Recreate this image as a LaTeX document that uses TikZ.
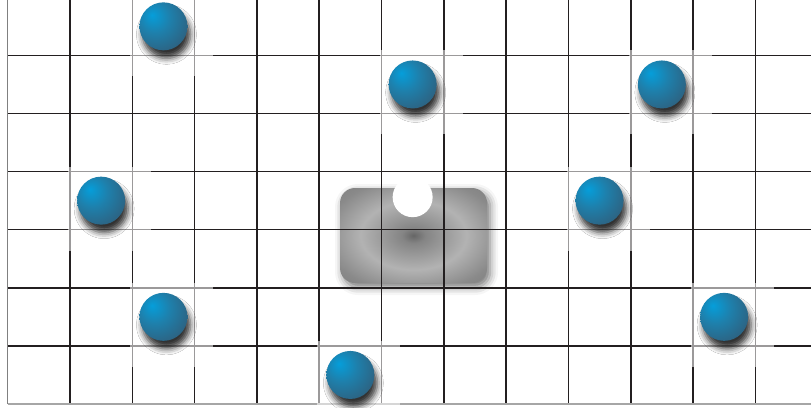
\documentclass[tikz,border=0pt]{standalone}
\usepackage{xcolor}
\usepackage{tikz}
\usetikzlibrary{positioning, shadows.blur}

\definecolor{gridink}{RGB}{35,31,32}
\definecolor{ballhi}{RGB}{5,158,218}
\definecolor{ballmid}{RGB}{30,128,172}
\definecolor{balldark}{RGB}{46,96,126}
\definecolor{balledge}{RGB}{56,64,78}

\pgfdeclareradialshading{blueball}{\pgfpoint{-12bp}{12bp}}{color(0bp)=(ballhi); color(16bp)=(ballmid); color(36bp)=(balldark); color(54bp)=(balledge); color(75bp)=(balledge)}
\pgfdeclareradialshading{glowbox}{\pgfpoint{0bp}{0bp}}{color(0bp)=(black!60); color(4bp)=(black!48); color(18bp)=(black!30); color(30bp)=(black!46); color(45bp)=(black!55); color(75bp)=(black!57)}

\tikzstyle{ball}     = [circle, minimum size=48pt, inner sep=0pt, shading=blueball, blur shadow={shadow xshift=3pt, shadow yshift=-8pt, shadow blur radius=6pt, shadow opacity=80}]
\tikzstyle{fade}     = [fill=white, opacity=0.55]
\tikzstyle{plate}    = [rectangle, rounded corners=15pt, minimum width=147pt, minimum height=95pt, shading=glowbox, blur shadow={shadow xshift=3pt, shadow yshift=-4pt, shadow blur radius=8pt, shadow opacity=55}]
\tikzstyle{hole}     = [circle, fill=white, minimum size=40pt, inner sep=0pt]
\tikzstyle{gridline} = [line width=1.6pt, draw=gridink]

\begin{document}
\begin{tikzpicture}[x=62.3pt, y=58.1pt]
\useasboundingbox (-7.7pt,-3pt) rectangle (803.3pt,404pt);

% gray plate with the white hole
\node (plate) [plate] at (6.514,2.9) {};
\node (hole) [hole] at (6.5,3.56) {};

% grid
\foreach \i in {1,...,12}
  \draw [gridline] (\i,0) -- (\i,404pt);
\foreach \j in {1,...,6}
  \draw [gridline] (0,\j) -- (803.3pt,\j);
\draw [line width=1.5pt, black!50] (0,0) -- (0,404pt);
\draw [line width=1.2pt, black!35] (0,0) -- (803.3pt,0);

% balls
\foreach \x/\y [count=\n] in {2.5/6.5, 6.5/5.5, 10.5/5.5, 1.5/3.5, 9.5/3.5, 2.5/1.5, 11.5/1.5, 5.5/0.5} {
  \fill [fade] ([shift={(-33pt,34pt)}]\x,\y) rectangle ([shift={(50pt,-50pt)}]\x,\y);
  \node (ball\n) [ball] at (\x,\y) {};
}

\end{tikzpicture}
\end{document}
